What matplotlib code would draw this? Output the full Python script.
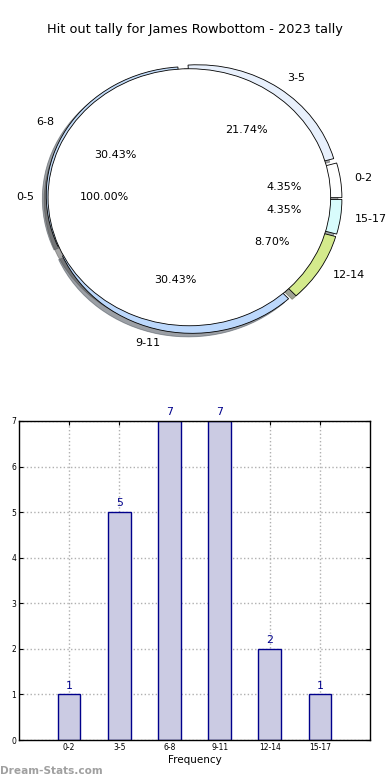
import matplotlib
matplotlib.use('Agg')
import matplotlib.pyplot as plt

# data
groups = ['0-2', '3-5', '6-8', '9-11', '12-14', '15-17']
counts = [1, 5, 7, 7, 2, 1]
pie_colors = ['#ffffff', '#e8f0fc', '#c2dbf8', '#bcd8fc', '#d4ea8c', '#d8fcfc']
total_label = ['0-5']
total_value = [1]
title = 'Hit out tally for James Rowbottom - 2023 tally'

fig = plt.figure(figsize=(3.9, 7.8), dpi=100)

# ---- pie (top) ----
ax1 = fig.add_axes([0.0, 0.5, 1.0, 0.5])
ax1.set_axis_off()
w, t, at = ax1.pie(counts, labels=groups, colors=pie_colors, explode=[0.05]*6,
                   autopct='%.2f%%', shadow=True, startangle=0,
                   wedgeprops={'linewidth': 0.6, 'edgecolor': 'black'},
                   textprops={'fontsize': 8})
w2, t2, at2 = ax1.pie(total_value, labels=total_label, colors=['white'],
                      autopct='%.2f%%', shadow=True, startangle=0,
                      center=(-0.03, 0.01),
                      wedgeprops={'linewidth': 0.6, 'edgecolor': 'black'},
                      textprops={'fontsize': 8})
ax1.set_aspect('auto')
ax1.set_xlim(-1.37, 1.39)
ax1.set_ylim(-1.49, 1.545)
fig.text(0.5, 1 - 30/780, title, ha='center', va='center', fontsize=9.3)

# ---- bar chart (bottom) ----
ax2 = fig.add_axes([19/390, 1 - 740/780, 351/390, 319/780])
x = list(range(len(groups)))
bars = ax2.bar(x, counts, width=0.45, color='#cbcbe3', edgecolor='#00008b',
               linewidth=1.0, zorder=2)
for xi, c in zip(x, counts):
    ax2.text(xi, c + 0.08, str(c), ha='center', va='bottom', color='#00008b',
             fontsize=7.8, clip_on=False)
ax2.set_xlim(-1, 6)
ax2.set_ylim(0, 7)
ax2.set_xticks(x)
ax2.set_xticklabels(groups)
ax2.set_yticks(range(8))
ax2.tick_params(direction='in', top=True, right=True, labelsize=5.5,
                length=3, pad=2)
ax2.grid(True, linestyle=':', color='#b0b0b0', linewidth=1.0, zorder=0)
for s in ax2.spines.values():
    s.set_linewidth(1.0)
ax2.set_xlabel('Frequency', fontsize=7.5, labelpad=2)
ax2.set_ylabel('Stat Intervals', fontsize=7.5, labelpad=2)
ax2.yaxis.set_label_coords(-0.045, 0.5)

fig.text(0.0, 1 - 771/780, 'Dream-Stats.com', ha='left', va='center',
         fontsize=7.6, color='#a0a0a0', fontweight='bold')

fig.savefig('out.png', dpi=100)
